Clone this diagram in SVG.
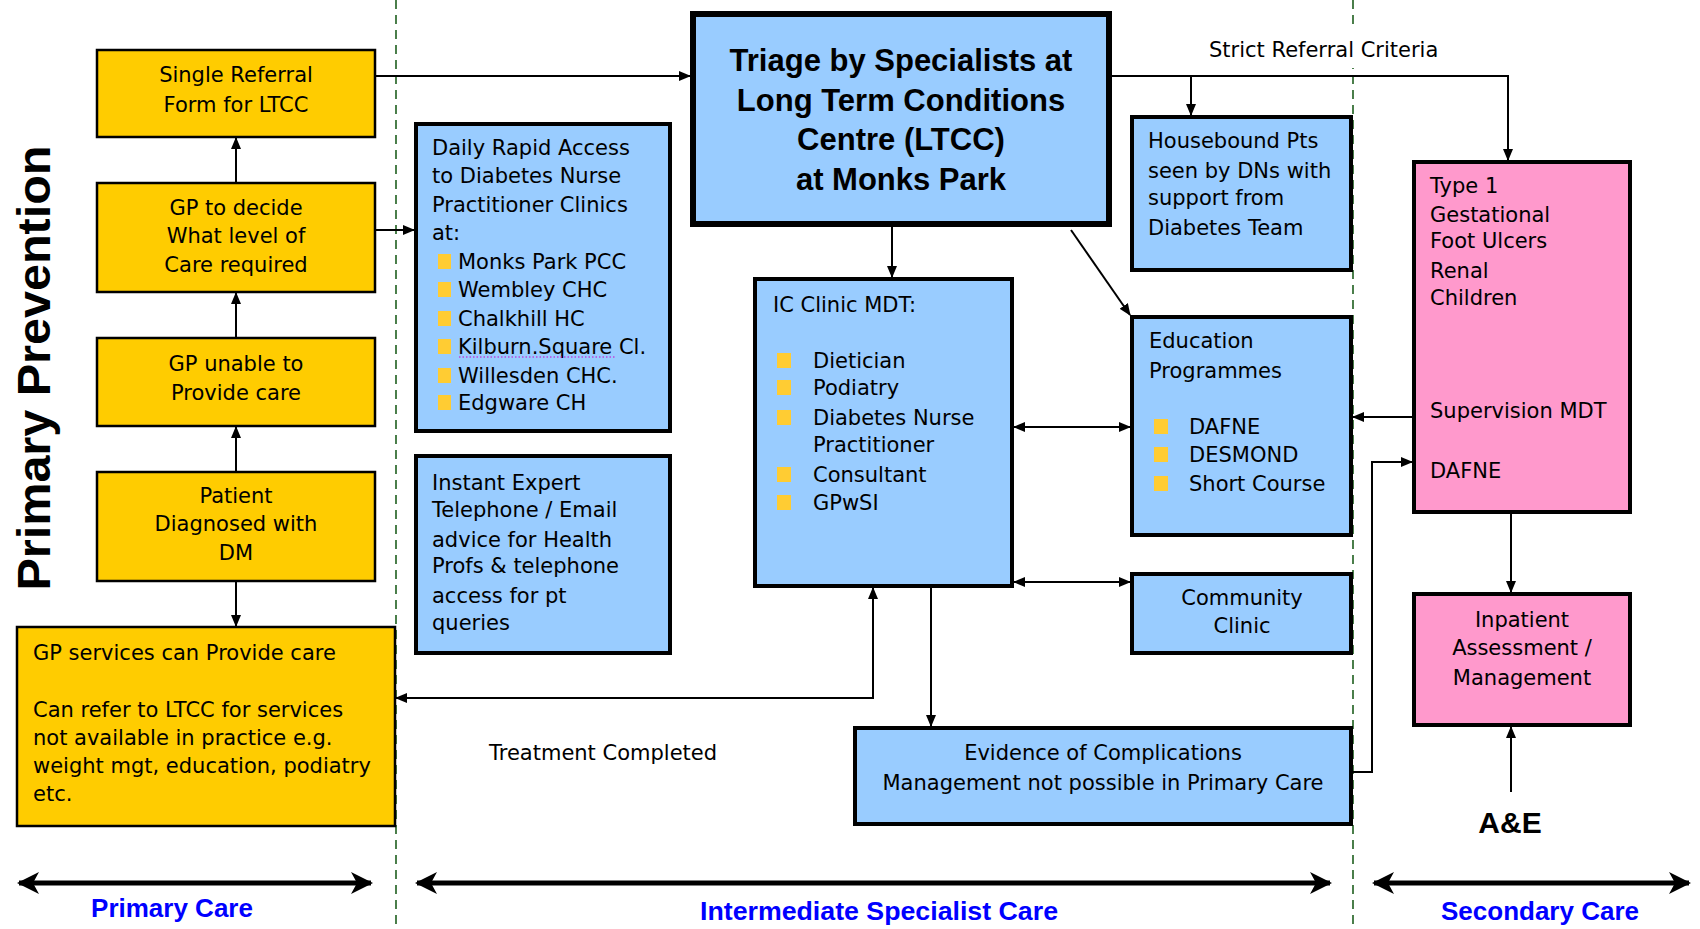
<svg xmlns="http://www.w3.org/2000/svg" width="1700" height="929" viewBox="0 0 1700 929">
<defs>
<style>
.t{font-family:"DejaVu Sans",sans-serif;font-size:21px;fill:#000}
.c{text-anchor:middle}
.y{fill:#FFCC00;stroke:#000;stroke-width:2.5}
.b{fill:#99CCFF;stroke:#000;stroke-width:4}
.p{fill:#FF99CC;stroke:#000;stroke-width:4}
.bul{fill:#FFCC33}
.cn{fill:none;stroke:#000;stroke-width:2}
.big{fill:none;stroke:#000;stroke-width:5}
.dash{stroke:#1F5F1F;stroke-width:1.6;stroke-dasharray:9 6}
.lab{font-family:"Liberation Sans",Arial,sans-serif;font-weight:bold;font-size:26px;fill:#0000FF;text-anchor:middle}
</style>
<marker id="a" markerUnits="userSpaceOnUse" markerWidth="12" markerHeight="10" refX="11" refY="5" orient="auto-start-reverse">
<path d="M0,0 L12,5 L0,10 z" fill="#000"/>
</marker>
<marker id="ab" markerUnits="userSpaceOnUse" markerWidth="22" markerHeight="24" refX="20" refY="12" orient="auto-start-reverse">
<path d="M0,1 L22,12 L0,23 L6,12 z" fill="#000"/>
</marker>
</defs>
<rect width="1700" height="929" fill="#fff"/>

<g id="dividers">
<line class="dash" x1="396" y1="0" x2="396" y2="929"/>
<line class="dash" x1="1353" y1="0" x2="1353" y2="929"/>
</g>

<text id="primary-prevention" transform="translate(50,368) rotate(-90)" text-anchor="middle" font-family="Liberation Sans, Arial, sans-serif" font-weight="bold" font-size="47" textLength="445" lengthAdjust="spacingAndGlyphs">Primary Prevention</text>

<g id="connectors">
<path class="cn" d="M376,76 H690" marker-end="url(#a)"/>
<path class="cn" d="M236,182 V138" marker-end="url(#a)"/>
<path class="cn" d="M236,337 V293" marker-end="url(#a)"/>
<path class="cn" d="M236,471 V427" marker-end="url(#a)"/>
<path class="cn" d="M236,582 V626" marker-end="url(#a)"/>
<path class="cn" d="M376,230 H414" marker-end="url(#a)"/>
<path class="cn" d="M892,227 V277" marker-end="url(#a)"/>
<path class="cn" d="M1071,230 L1130,315" marker-end="url(#a)"/>
<path class="cn" d="M1112,76 H1508 V160" marker-end="url(#a)"/>
<path class="cn" d="M1191,76 V115" marker-end="url(#a)"/>
<path class="cn" d="M1014,427 H1130" marker-start="url(#a)" marker-end="url(#a)"/>
<path class="cn" d="M1014,582 H1130" marker-start="url(#a)" marker-end="url(#a)"/>
<path class="cn" d="M931,588 V726" marker-end="url(#a)"/>
<path class="cn" d="M396,698 H873 V588" marker-start="url(#a)" marker-end="url(#a)"/>
<path class="cn" d="M1412,417 H1353" marker-end="url(#a)"/>
<path class="cn" d="M1353,772 H1372 V462 H1412" marker-end="url(#a)"/>
<path class="cn" d="M1511,514 V592" marker-end="url(#a)"/>
<path class="cn" d="M1511,792 V727" marker-end="url(#a)"/>
<path class="big" d="M19,883 H371" marker-start="url(#ab)" marker-end="url(#ab)"/>
<path class="big" d="M417,883 H1330" marker-start="url(#ab)" marker-end="url(#ab)"/>
<path class="big" d="M1374,883 H1689" marker-start="url(#ab)" marker-end="url(#ab)"/>
</g>

<g id="single-referral">
<rect class="y" x="97" y="50" width="278" height="87"/>
<text class="t c" x="236" y="82">Single Referral</text>
<text class="t c" x="236" y="112">Form for LTCC</text>
</g>

<g id="gp-decide">
<rect class="y" x="97" y="183" width="278" height="109"/>
<text class="t c" x="236" y="215">GP to decide</text>
<text class="t c" x="236" y="243">What level of</text>
<text class="t c" x="236" y="272">Care required</text>
</g>

<g id="gp-unable">
<rect class="y" x="97" y="338" width="278" height="88"/>
<text class="t c" x="236" y="371">GP unable to</text>
<text class="t c" x="236" y="400">Provide care</text>
</g>

<g id="patient">
<rect class="y" x="97" y="472" width="278" height="109"/>
<text class="t c" x="236" y="503">Patient</text>
<text class="t c" x="236" y="531">Diagnosed with</text>
<text class="t c" x="236" y="560">DM</text>
</g>

<g id="gp-services">
<rect class="y" x="17" y="627" width="378" height="199"/>
<text class="t" x="33" y="660">GP services can Provide care</text>
<text class="t" x="33" y="717">Can refer to LTCC for services</text>
<text class="t" x="33" y="745">not available in practice e.g.</text>
<text class="t" x="33" y="773">weight mgt, education, podiatry</text>
<text class="t" x="33" y="801">etc.</text>
</g>

<g id="daily-rapid">
<rect class="b" x="416" y="124" width="254" height="307"/>
<text class="t" x="432" y="155">Daily Rapid Access</text>
<text class="t" x="432" y="183">to Diabetes Nurse</text>
<text class="t" x="432" y="212">Practitioner Clinics</text>
<text class="t" x="432" y="240">at:</text>
<rect class="bul" x="438" y="254" width="13" height="15"/>
<text class="t" x="458" y="269">Monks Park PCC</text>
<rect class="bul" x="438" y="282" width="13" height="15"/>
<text class="t" x="458" y="297">Wembley CHC</text>
<rect class="bul" x="438" y="311" width="13" height="15"/>
<text class="t" x="458" y="326">Chalkhill HC</text>
<rect class="bul" x="438" y="339" width="13" height="15"/>
<text class="t" x="458" y="354">Kilburn.Square Cl.</text>
<line x1="459" y1="357" x2="616" y2="357" stroke="#CC00CC" stroke-width="1" stroke-dasharray="1.5 2"/>
<rect class="bul" x="438" y="368" width="13" height="15"/>
<text class="t" x="458" y="383">Willesden CHC.</text>
<rect class="bul" x="438" y="395" width="13" height="15"/>
<text class="t" x="458" y="410">Edgware CH</text>
</g>

<g id="instant-expert">
<rect class="b" x="416" y="456" width="254" height="197"/>
<text class="t" x="432" y="490">Instant Expert</text>
<text class="t" x="432" y="517">Telephone / Email</text>
<text class="t" x="432" y="547">advice for Health</text>
<text class="t" x="432" y="573">Profs &amp; telephone</text>
<text class="t" x="432" y="603">access for pt</text>
<text class="t" x="432" y="630">queries</text>
</g>

<g id="triage">
<rect x="693" y="14" width="416" height="210" fill="#99CCFF" stroke="#000" stroke-width="6"/>
<g font-family="Liberation Sans, Arial, sans-serif" font-weight="bold" font-size="31" text-anchor="middle">
<text x="901" y="71">Triage by Specialists at</text>
<text x="901" y="111">Long Term Conditions</text>
<text x="901" y="150">Centre (LTCC)</text>
<text x="901" y="190">at Monks Park</text>
</g>
</g>

<g id="ic-clinic">
<rect class="b" x="755" y="279" width="257" height="307"/>
<text class="t" x="773" y="312">IC Clinic MDT:</text>
<rect class="bul" x="777" y="353" width="14" height="15"/>
<text class="t" x="813" y="368">Dietician</text>
<rect class="bul" x="777" y="380" width="14" height="15"/>
<text class="t" x="813" y="395">Podiatry</text>
<rect class="bul" x="777" y="410" width="14" height="15"/>
<text class="t" x="813" y="425">Diabetes Nurse</text>
<text class="t" x="813" y="452">Practitioner</text>
<rect class="bul" x="777" y="467" width="14" height="15"/>
<text class="t" x="813" y="482">Consultant</text>
<rect class="bul" x="777" y="495" width="14" height="15"/>
<text class="t" x="813" y="510">GPwSI</text>
</g>

<g id="housebound">
<rect class="b" x="1132" y="117" width="219" height="153"/>
<text class="t" x="1148" y="148">Housebound Pts</text>
<text class="t" x="1148" y="178">seen by DNs with</text>
<text class="t" x="1148" y="205">support from</text>
<text class="t" x="1148" y="235">Diabetes Team</text>
</g>

<g id="education">
<rect class="b" x="1132" y="317" width="219" height="218"/>
<text class="t" x="1149" y="348">Education</text>
<text class="t" x="1149" y="378">Programmes</text>
<rect class="bul" x="1154" y="419" width="14" height="15"/>
<text class="t" x="1189" y="434">DAFNE</text>
<rect class="bul" x="1154" y="447" width="14" height="15"/>
<text class="t" x="1189" y="462">DESMOND</text>
<rect class="bul" x="1154" y="476" width="14" height="15"/>
<text class="t" x="1189" y="491">Short Course</text>
</g>

<g id="community-clinic">
<rect class="b" x="1132" y="574" width="219" height="79"/>
<text class="t c" x="1242" y="605">Community</text>
<text class="t c" x="1242" y="633">Clinic</text>
</g>

<g id="evidence">
<rect class="b" x="855" y="728" width="496" height="96"/>
<text class="t c" x="1103" y="760">Evidence of Complications</text>
<text class="t c" x="1103" y="790">Management not possible in Primary Care</text>
</g>

<g id="type1">
<rect class="p" x="1414" y="162" width="216" height="350"/>
<text class="t" x="1430" y="193">Type 1</text>
<text class="t" x="1430" y="222">Gestational</text>
<text class="t" x="1430" y="248">Foot Ulcers</text>
<text class="t" x="1430" y="278">Renal</text>
<text class="t" x="1430" y="305">Children</text>
<text class="t" x="1430" y="418">Supervision MDT</text>
<text class="t" x="1430" y="478">DAFNE</text>
</g>

<g id="inpatient">
<rect class="p" x="1414" y="594" width="216" height="131"/>
<text class="t c" x="1522" y="627">Inpatient</text>
<text class="t c" x="1522" y="655">Assessment /</text>
<text class="t c" x="1522" y="685">Management</text>
</g>

<g id="labels">
<rect x="1200" y="24" width="246" height="44" fill="#fff"/>
<text class="t" x="1209" y="57">Strict Referral Criteria</text>
<text class="t" x="489" y="760">Treatment Completed</text>
<text x="1510" y="833" text-anchor="middle" font-family="Liberation Sans, Arial, sans-serif" font-weight="bold" font-size="30">A&amp;E</text>
<text class="lab" x="172" y="917">Primary Care</text>
<text class="lab" x="879" y="920" textLength="358" lengthAdjust="spacingAndGlyphs">Intermediate Specialist Care</text>
<text class="lab" x="1540" y="920">Secondary Care</text>
</g>
</svg>
